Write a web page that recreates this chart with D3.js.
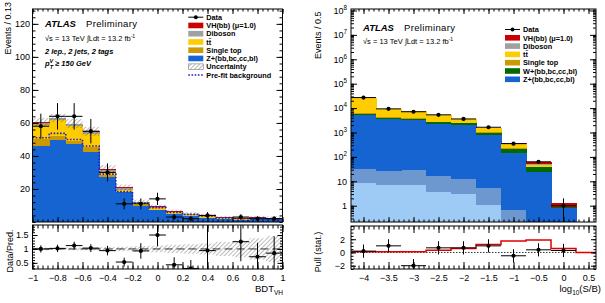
<!DOCTYPE html>
<html>
<head>
<meta charset="utf-8">
<script src="https://cdn.jsdelivr.net/npm/d3@7"></script>
<style>
  body { margin: 0; background: #fff; }
  svg { display: block; }
</style>
</head>
<body>
<div id="vis"></div>
<script>
// ---------- left plot: BDT_VH, 2 lep 2 jets 2 tags ----------
const bdtEdges = [-1, -0.8667, -0.7333, -0.6, -0.4667, -0.3333, -0.2, -0.0667, 0.0667, 0.2, 0.3333, 0.4667, 0.6, 0.7333, 0.8667, 1];
const bdtZhf     = [46, 49.5, 47, 42.6, 27.5, 18, 9.9, 7.3, 4.6, 3.6, 2.6, 1.6, 1.3, 1.9, 1.6];
const bdtStop    = [4, 2.8, 2.3, 2.7, 0.8, 0.4, 0.3, 0.2, 0.2, 0.1, 0.1, 0.1, 0.1, 0.05, 0.05];
const bdtTtbar   = [9, 9.5, 8.9, 7.8, 2.2, 1.2, 1.5, 1.2, 1.0, 0.8, 0.8, 0.6, 0.4, 0.3, 0.2];
const bdtDiboson = [1.2, 1.0, 1.2, 1.5, 1.2, 1.0, 0.4, 0.5, 0.4, 0.3, 0.3, 0.3, 0.3, 0.3, 0.2];
const bdtVH      = [0.2, 0.2, 0.2, 0.3, 0.4, 0.4, 0.2, 0.2, 0.3, 0.3, 0.3, 0.3, 0.4, 0.4, 0.5];
const bdtUnc     = [2.5, 2.5, 2.7, 2.8, 2.3, 1.7, 1.2, 1.1, 1.0, 0.9, 0.8, 0.7, 0.7, 0.8, 0.9];
const bdtPrefit  = [51, 53.7, 50, 46, 29, 18.4, 11.5, 8.7, 5.8, 4.6, 3.6, 2.4, 2.2, 2.4, 2.0];
const bdtData    = [58, 64, 64, 55, 30, 11, 11, 14, 3, 2, 4, 0, 3, 2, 2];
const bdtRatio     = [1.0, 1.02, 1.12, 1.03, 0.94, 0.53, 0.93, 1.5, 0.43, 0.3, 0.94, null, 1.26, 0.72, 0.85];
const bdtRatioErr  = [0.13, 0.13, 0.14, 0.14, 0.17, 0.16, 0.28, 0.4, 0.27, 0.3, 0.9, null, 0.7, 0.5, 0.6];
const bdtRatioBand = [0.05, 0.04, 0.05, 0.05, 0.07, 0.08, 0.1, 0.12, 0.15, 0.17, 0.2, 0.25, 0.3, 0.38, 0.47];
const bdtTicks   = [-1, -0.8, -0.6, -0.4, -0.2, 0, 0.2, 0.4, 0.6, 0.8, 1];
const bdtYTicks  = [20, 40, 60, 80, 100, 120];
const ratioTicks = [0.5, 1, 1.5];

// ---------- right plot: log10(S/B) ----------
const sbEdges   = [-4.25, -3.75, -3.25, -2.75, -2.25, -1.75, -1.25, -0.75, -0.25, 0.25];
const sbZl      = [8.8, 7, 7, 3.7, 2.9, 1.1, 0.15, 0.05, 0.01];
const sbZcl     = [23, 19, 22, 12.8, 10, 4.1, 0.5, 0.1, 0.02];
const sbZhf     = [5100, 3530, 3220, 2224, 2000, 785, 139, 24.9, 0.8];
const sbW       = [700, 500, 420, 400, 380, 180, 70, 12, 0.03];
const sbStop    = [300, 140, 130, 120, 100, 50, 15, 3, 0.01];
const sbTtbar   = [20500, 4900, 3515, 2410, 1000, 530, 100, 7, 0.02];
const sbDiboson = [150, 100, 80, 70, 45, 30, 6, 2, 0.01];
const sbVH      = [3, 3, 6, 10, 12, 20, 30, 13, 0.45];
const sbData    = [27000, 9300, 7100, 5300, 3590, 1640, 350, 63, 1];
const pullVal   = [0.2, 1.0, -2.0, 0.7, 0.7, 1.0, -0.5, 0.4, 0.3];
const pullSig   = [0.12, 0.12, 0.12, 0.35, 0.6, 1.2, 1.75, 1.9, 0.6];
const sbTicks   = [-4, -3.5, -3, -2.5, -2, -1.5, -1, -0.5, 0, 0.5];
const sbYTicks  = [1, 10, 1e2, 1e3, 1e4, 1e5, 1e6, 1e7, 1e8];
const pullTicks = [-2, 0, 2];

// colours
const col = {
  Zl: '#9dcbf5', Zcl: '#6c98cf', Z: '#1564d2', W: '#006a00', stop: '#cc9a00',
  ttbar: '#ffcc00', dib: '#a0a0a0', VH: '#cc0000', prefit: '#2020c8'
};
const font = '"Liberation Sans", Arial, Helvetica, sans-serif';
const fmt = d3.format('~g');

let svg = d3.select('#vis').append('svg')
  .attr('width', 605).attr('height', 303)
  .style('font-family', font);
svg.append('rect').attr('width', 605).attr('height', 303).attr('fill', '#fff');

const defs = svg.append('defs');
defs.append('pattern').attr('id', 'hatch')
  .attr('patternUnits', 'userSpaceOnUse').attr('width', 3).attr('height', 3)
  .attr('patternTransform', 'rotate(45)')
  .append('line').attr('x1', 0).attr('y1', 0).attr('x2', 0).attr('y2', 3)
  .attr('stroke', '#555').attr('stroke-width', 0.8);

// scales
let xL  = d3.scaleLinear().domain([-1, 1]).range([32.5, 282.5]);
let yL  = d3.scaleLinear().domain([0, 129]).range([222, 9]);
let yLr = d3.scaleLinear().domain([0.28, 1.86]).range([269, 225]);
let xR  = d3.scaleLinear().domain([-4.25, 0.65]).range([351, 596]);
let yR  = d3.scaleLog().domain([0.215, 1.15e8]).range([222, 9]);
let yRp = d3.scaleLinear().domain([-2.5, 4]).range([269, 226]);

function clip(id, x, y) {
  defs.append('clipPath').attr('id', id).append('rect')
    .attr('x', x.range()[0]).attr('y', y.range()[1])
    .attr('width', x.range()[1] - x.range()[0])
    .attr('height', y.range()[0] - y.range()[1]);
  return svg.append('g').attr('clip-path', 'url(#' + id + ')');
}

// draw a stacked histogram from a table
function stackHist(g, table, keys, edges, x, y) {
  let lo = y.domain()[0];
  let series = d3.stack().keys(keys)(table);
  g.selectAll('g.s').data(series).enter().append('g')
    .attr('fill', d => col[d.key])
    .selectAll('rect').data(d => d).enter().append('rect')
      .attr('shape-rendering', 'crispEdges')
      .attr('x', (d, i) => x(edges[i]))
      .attr('width', (d, i) => x(edges[i + 1]) - x(edges[i]) + 0.5)
      .attr('y', d => y(Math.max(d[1], lo)))
      .attr('height', d => Math.max(0, y(Math.max(d[0], lo)) - y(Math.max(d[1], lo))));
  return series;
}

function stepPoints(edges, vals) {
  let pts = [];
  vals.forEach((v, i) => { pts.push([edges[i], v]); pts.push([edges[i + 1], v]); });
  return pts;
}

function dataPoints(g, edges, vals, errs, x, y, lo) {
  vals.forEach((v, i) => {
    if (v === null || v === undefined) return;
    let xc = (edges[i] + edges[i + 1]) / 2;
    let e = errs[i];
    g.append('line').attr('x1', x(edges[i])).attr('x2', x(edges[i + 1]))
      .attr('y1', y(v)).attr('y2', y(v)).attr('stroke', '#000').attr('stroke-width', 1);
    g.append('line').attr('x1', x(xc)).attr('x2', x(xc))
      .attr('y1', y(v + e)).attr('y2', y(Math.max(v - e, lo)))
      .attr('stroke', '#000').attr('stroke-width', 1);
    g.append('circle').attr('cx', x(xc)).attr('cy', y(v)).attr('r', 2.1).attr('fill', '#000');
  });
}

// ROOT-like frame with inward ticks on all four sides
function frame(x, y, o) {
  let ya = y.range()[0], yb = y.range()[1], xa = x.range()[0], xb = x.range()[1];
  let g = svg.append('g');
  function add(axis, tr) {
    let a = g.append('g').attr('transform', tr).call(axis);
    a.attr('font-size', null).attr('font-family', null);
    a.select('.domain').remove();
    a.selectAll('text').attr('font-size', 9).attr('fill', '#000');
    return a;
  }
  add(d3.axisBottom(x).tickValues(o.xMinor).tickSize(-o.xm).tickFormat(''), `translate(0,${ya})`);
  add(d3.axisTop(x).tickValues(o.xMinor).tickSize(-o.xm).tickFormat(''), `translate(0,${yb})`);
  add(d3.axisBottom(x).tickValues(o.xMajor).tickSize(-o.xM).tickPadding(o.xPad || 6)
      .tickFormat(o.xLabels ? fmt : ''), `translate(0,${ya})`);
  add(d3.axisTop(x).tickValues(o.xMajor).tickSize(-o.xM).tickFormat(''), `translate(0,${yb})`);
  add(d3.axisLeft(y).tickValues(o.yMinor).tickSize(-o.ym).tickFormat(''), `translate(${xa},0)`);
  add(d3.axisRight(y).tickValues(o.yMinor).tickSize(-o.ym).tickFormat(''), `translate(${xb},0)`);
  let ly = add(d3.axisLeft(y).tickValues(o.yMajor).tickSize(-o.yM).tickPadding(o.yPad || 3)
      .tickFormat(o.yFmt || fmt), `translate(${xa},0)`);
  add(d3.axisRight(y).tickValues(o.yMajor).tickSize(-o.yM).tickFormat(''), `translate(${xb},0)`);
  g.append('rect').attr('x', xa).attr('y', yb).attr('width', xb - xa).attr('height', ya - yb)
    .attr('fill', 'none').attr('stroke', '#000').attr('stroke-width', 1);
  return ly;
}

function rotLabel(x, y, txt, anchor) {
  svg.append('text').attr('transform', `translate(${x},${y}) rotate(-90)`)
    .attr('text-anchor', anchor).attr('font-size', 9).text(txt);
}

function atlas(x, y, lumiY) {
  svg.append('text').attr('x', x).attr('y', y).attr('font-size', 9.5)
    .attr('font-weight', 'bold').attr('font-style', 'italic').text('ATLAS');
  svg.append('text').attr('x', x + 41).attr('y', y).attr('font-size', 9.5)
    .attr('textLength', 51).text('Preliminary');
  let t = svg.append('text').attr('x', x).attr('y', lumiY).attr('font-size', 7.5);
  t.append('tspan').text('\u221As = 13 TeV  \u222BLdt = 13.2 fb');
  t.append('tspan').attr('dy', -3).attr('font-size', 5).text('-1');
}

function legend(x0, y0, step, entries) {
  entries.forEach((e, i) => {
    let yc = y0 + i * step;
    let g = svg.append('g');
    if (e.t === 'data') {
      g.append('line').attr('x1', x0).attr('x2', x0 + 15).attr('y1', yc).attr('y2', yc).attr('stroke', '#000');
      g.append('circle').attr('cx', x0 + 7.5).attr('cy', yc).attr('r', 2).attr('fill', '#000');
    } else if (e.t === 'box') {
      g.append('rect').attr('x', x0).attr('y', yc - 2.8).attr('width', 15).attr('height', 5.6).attr('fill', col[e.c]);
    } else if (e.t === 'hatch') {
      g.append('rect').attr('x', x0).attr('y', yc - 2.8).attr('width', 15).attr('height', 5.6)
        .attr('fill', 'url(#hatch)').attr('stroke', '#666').attr('stroke-width', 0.5);
    } else if (e.t === 'line') {
      g.append('line').attr('x1', x0).attr('x2', x0 + 15).attr('y1', yc).attr('y2', yc)
        .attr('stroke', col.prefit).attr('stroke-width', 1.6).attr('stroke-dasharray', '1.6,1.6');
    }
    g.append('text').attr('x', x0 + 18).attr('y', yc + 2.7).attr('font-size', 7.3)
      .attr('font-weight', 'bold').text(e.l);
  });
}

// ================= LEFT MAIN =================
let bdtTable = bdtData.map((d, i) => ({
  Z: bdtZhf[i], stop: bdtStop[i], ttbar: bdtTtbar[i], dib: bdtDiboson[i], VH: bdtVH[i]
}));
let gL = clip('clipL', xL, yL);
let sL = stackHist(gL, bdtTable, ['Z', 'stop', 'ttbar', 'dib', 'VH'], bdtEdges, xL, yL);
let totL = sL[sL.length - 1].map(d => d[1]);
gL.selectAll('rect.unc').data(totL).enter().append('rect')
  .attr('x', (d, i) => xL(bdtEdges[i]))
  .attr('width', (d, i) => xL(bdtEdges[i + 1]) - xL(bdtEdges[i]))
  .attr('y', (d, i) => yL(d + bdtUnc[i]))
  .attr('height', (d, i) => yL(d - bdtUnc[i]) - yL(d + bdtUnc[i]))
  .attr('fill', 'url(#hatch)');
gL.append('path').datum(stepPoints(bdtEdges, bdtPrefit))
  .attr('d', d3.line().x(d => xL(d[0])).y(d => yL(d[1])))
  .attr('fill', 'none').attr('stroke', col.prefit).attr('stroke-width', 1.6)
  .attr('stroke-dasharray', '1.6,1.6');
let bdtDataShown = bdtData.map(v => v > 0 ? v : null);
dataPoints(gL, bdtEdges, bdtDataShown, bdtData.map(v => Math.sqrt(v)), xL, yL, 0);

frame(xL, yL, {
  xMajor: bdtTicks, xMinor: d3.range(-1, 1.001, 0.04), xM: 5, xm: 2.5, xLabels: false,
  yMajor: bdtYTicks, yMinor: d3.range(0, 129, 4), yM: 6, ym: 3, yPad: 2.5
});

// ================= LEFT RATIO =================
let gLr = clip('clipLr', xL, yLr);
gLr.selectAll('rect.band').data(bdtRatioBand).enter().append('rect')
  .attr('x', (d, i) => xL(bdtEdges[i]))
  .attr('width', (d, i) => xL(bdtEdges[i + 1]) - xL(bdtEdges[i]))
  .attr('y', d => yLr(1 + d))
  .attr('height', d => yLr(1 - d) - yLr(1 + d))
  .attr('fill', 'url(#hatch)');
gLr.append('line').attr('x1', xL(-1)).attr('x2', xL(1)).attr('y1', yLr(1)).attr('y2', yLr(1))
  .attr('stroke', '#000').attr('stroke-width', 0.8).attr('stroke-dasharray', '8,4');
dataPoints(gLr, bdtEdges, bdtRatio, bdtRatioErr, xL, yLr, -1);

frame(xL, yLr, {
  xMajor: bdtTicks, xMinor: d3.range(-1, 1.001, 0.04), xM: 7, xm: 3.5, xLabels: true, xPad: 6,
  yMajor: ratioTicks, yMinor: d3.range(0.3, 1.86, 0.1), yM: 5, ym: 2.5, yPad: 4
});

// ================= RIGHT MAIN =================
let sbTable = sbData.map((d, i) => ({
  Zl: sbZl[i], Zcl: sbZcl[i], Z: sbZhf[i], W: sbW[i], stop: sbStop[i],
  ttbar: sbTtbar[i], dib: sbDiboson[i], VH: sbVH[i]
}));
let gR = clip('clipR', xR, yR);
stackHist(gR, sbTable, ['Zl', 'Zcl', 'Z', 'W', 'stop', 'ttbar', 'dib', 'VH'], sbEdges, xR, yR);
dataPoints(gR, sbEdges, sbData, sbData.map(v => Math.sqrt(v)), xR, yR, 0.215);

let logMinor = [];
for (let e = -1; e <= 8; e++) for (let m = 1; m < 10; m++) {
  let v = m * Math.pow(10, e);
  if (v > 0.215 && v < 1.15e8) logMinor.push(v);
}
let lyR = frame(xR, yR, {
  xMajor: sbTicks, xMinor: d3.range(-4.2, 0.65, 0.1), xM: 5, xm: 2.5, xLabels: false,
  yMajor: sbYTicks, yMinor: logMinor, yM: 6, ym: 3, yPad: 4, yFmt: d => d
});
lyR.selectAll('text').each(function (d) {
  let e = Math.round(Math.log10(d));
  let t = d3.select(this).text('');
  if (e === 0) t.text('1');
  else if (e === 1) t.text('10');
  else {
    t.append('tspan').text('10');
    t.append('tspan').attr('dy', -4).attr('font-size', 6.3).text(e);
  }
});

// ================= RIGHT PULL =================
let gRp = clip('clipRp', xR, yRp);
gRp.append('line').attr('x1', xR.range()[0]).attr('x2', xR.range()[1])
  .attr('y1', yRp(0)).attr('y2', yRp(0))
  .attr('stroke', '#000').attr('stroke-width', 0.8).attr('stroke-dasharray', '1.5,1.5');
let redPts = stepPoints(sbEdges, pullSig);
redPts.push([sbEdges[sbEdges.length - 1], 0], [xR.domain()[1], 0]);
gRp.append('path').datum(redPts)
  .attr('d', d3.line().x(d => xR(d[0])).y(d => yRp(d[1])))
  .attr('fill', 'none').attr('stroke', '#e00000').attr('stroke-width', 1.5);
dataPoints(gRp, sbEdges, pullVal, pullVal.map(() => 1), xR, yRp, -5);

frame(xR, yRp, {
  xMajor: sbTicks, xMinor: d3.range(-4.2, 0.65, 0.1), xM: 7, xm: 3.5, xLabels: true, xPad: 6,
  yMajor: pullTicks, yMinor: d3.range(-2.5, 4.01, 0.5), yM: 5, ym: 2.5, yPad: 6
});

// ================= TEXTS =================
atlas(45, 27, 40.7);
let t1 = svg.append('text').attr('x', 45).attr('y', 53.5).attr('font-size', 7.5)
  .attr('font-weight', 'bold').attr('font-style', 'italic').text('2 lep., 2 jets, 2 tags');
let t2 = svg.append('text').attr('x', 45).attr('y', 66).attr('font-size', 7.5)
  .attr('font-weight', 'bold').attr('font-style', 'italic');
t2.append('tspan').text('p');
t2.append('tspan').attr('dy', -3.5).attr('font-size', 5.5).text('V');
t2.append('tspan').attr('dx', -3.6).attr('dy', 6).attr('font-size', 5.5).text('T');
t2.append('tspan').attr('dy', -2.5).text(' \u2265 150 GeV');

atlas(363, 30.5, 44.3);

legend(188.3, 17.2, 8.25, [
  { t: 'data', l: 'Data' },
  { t: 'box', c: 'VH', l: 'VH(bb) (\u03BC=1.0)' },
  { t: 'box', c: 'dib', l: 'Diboson' },
  { t: 'box', c: 'ttbar', l: 'tt\u0304' },
  { t: 'box', c: 'stop', l: 'Single top' },
  { t: 'box', c: 'Z', l: 'Z+(bb,bc,cc,bl)' },
  { t: 'hatch', l: 'Uncertainty' },
  { t: 'line', l: 'Pre-fit background' }
]);
legend(505, 29.5, 8.3, [
  { t: 'data', l: 'Data' },
  { t: 'box', c: 'VH', l: 'VH(bb) (\u03BC=1.0)' },
  { t: 'box', c: 'dib', l: 'Diboson' },
  { t: 'box', c: 'ttbar', l: 'tt\u0304' },
  { t: 'box', c: 'stop', l: 'Single top' },
  { t: 'box', c: 'W', l: 'W+(bb,bc,cc,bl)' },
  { t: 'box', c: 'Z', l: 'Z+(bb,bc,cc,bl)' }
]);

// axis titles
let bx = svg.append('text').attr('x', 283).attr('y', 292).attr('text-anchor', 'end').attr('font-size', 9.5);
bx.append('tspan').text('BDT');
bx.append('tspan').attr('dy', 2.5).attr('font-size', 6.5).text('VH');
let lx = svg.append('text').attr('x', 601).attr('y', 292).attr('text-anchor', 'end').attr('font-size', 9.5);
lx.append('tspan').text('log');
lx.append('tspan').attr('dy', 2.5).attr('font-size', 6.5).text('10');
lx.append('tspan').attr('dy', -2.5).text('(S/B)');

rotLabel(11, 2, 'Events / 0.13', 'end');
rotLabel(13, 251, 'Data/Pred.', 'middle');
rotLabel(321, 11.5, 'Events / 0.5', 'end');
rotLabel(321, 252, 'Pull (stat.)', 'middle');
</script>
</body>
</html>
